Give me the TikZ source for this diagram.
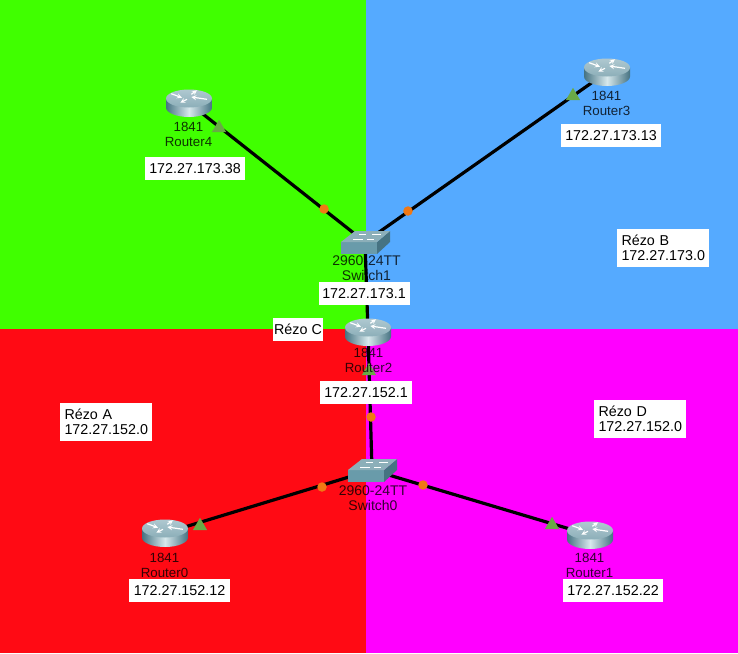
\documentclass[tikz,border=0pt]{standalone}
\usepackage{fontspec}
\setmainfont{Liberation Sans}
\usetikzlibrary{shapes.geometric}
\definecolor{zonegreen}{RGB}{64,255,0}
\definecolor{zoneblue}{RGB}{85,170,255}
\definecolor{zonered}{RGB}{255,10,20}
\definecolor{zonepink}{RGB}{255,0,255}
\definecolor{portorange}{RGB}{240,120,20}
\definecolor{portgreen}{RGB}{105,170,70}
\definecolor{devdark}{RGB}{70,115,130}
\definecolor{devmid}{RGB}{105,155,170}
\definecolor{devlight}{RGB}{215,232,236}
\definecolor{devtop}{RGB}{140,175,185}
\definecolor{devpale}{RGB}{175,200,208}

\begin{document}
\begin{tikzpicture}
 [
  x=1pt, y=-1pt,
  >=stealth,
  device/.style  = {inner sep = 0pt, minimum size = 1pt},
  link/.style    = {line width = 3.2pt, black},
  portdot/.style = {circle, fill = portorange, inner sep = 0pt, minimum size = 9.5pt},
  porttri/.style = {regular polygon, regular polygon sides = 3, fill = portgreen, inner sep = 0pt, minimum size = 16.5pt},
  devname/.style = {align = center, font = \fontsize{13.3}{15}\selectfont, text = black, text opacity = .8, inner sep = 0pt},
  addr/.style    = {fill = white, font = \fontsize{14.3}{16}\selectfont, inner sep = 0pt, minimum height = 23pt, minimum width = 100pt},
  zone/.style    = {fill = white, align = left, font = \fontsize{14.3}{15}\selectfont, inner sep = 0pt, minimum height = 38pt, minimum width = 92pt, text width = 83pt},
  arrowline/.style = {white, line width = 1.2pt, ->},
  pics/routericon/.style = {code = {
    \shade[left color = devdark, right color = devdark, middle color = devlight] (-23,-4.5) -- (-23,4.5) arc[x radius = 23, y radius = 9.5, start angle = 180, end angle = 0] -- (23,-4.5) -- cycle;
    \shade[top color = devpale, bottom color = devtop] (0,-4.5) ellipse (23 and 9);
    \draw[arrowline] (-17.7,-9.3) -- (-7,-5.3);
    \draw[arrowline] (2.3,-8.7) -- (8,-12.7);
    \draw[arrowline] (18,-3.7) -- (2.3,-6);
    \draw[arrowline] (-2,-3.7) -- (-8.7,-0.3);
  }},
  pics/switchicon/.style = {code = {
    \fill[devmid] (-24,0) -- (12,0) -- (12,12) -- (-24,12) -- cycle;
    \fill[devdark] (12,0) -- (25,-11) -- (25,0) -- (12,12) -- cycle;
    \fill[devtop] (-24,0) -- (-10,-11) -- (25,-11) -- (12,0) -- cycle;
    \draw[white, line width = 1pt] (-12,-3) -- (-2,-3);
    \draw[white, line width = 1pt] (2,-3) -- (9,-3);
    \draw[white, line width = 1pt] (-6,-8) -- (1,-8);
    \draw[white, line width = 1pt] (7,-8) -- (16,-8);
  }},
 ]

 \useasboundingbox (0,0) rectangle (738,653);

 % the four zones
 \fill[zonegreen] (0,0) rectangle (366,329);
 \fill[zoneblue]  (366,0) rectangle (738,329);
 \fill[zonered]   (0,329) rectangle (366,653);
 \fill[zonepink]  (366,329) rectangle (738,653);

 % the devices
 \node (router4) at (189,103) [device] {};
 \node (router3) at (607,72)  [device] {};
 \node (router2) at (368,332) [device] {};
 \node (router0) at (165,533) [device] {};
 \node (router1) at (590,535) [device] {};
 \node (switch1) at (365,242) [device] {};
 \node (switch0) at (372,470) [device] {};

 % the links
 \draw[link] (router4) -- (switch1);
 \draw[link] (router3) -- (switch1);
 \draw[link] (switch1) -- (router2);
 \draw[link] (router2) -- (switch0);
 \draw[link] (switch0) -- (router0);
 \draw[link] (switch0) -- (router1);

 % the port lights
 \node (dot4) at (324,209) [portdot] {};
 \node (dot3) at (408,211) [portdot] {};
 \node (dot2) at (371,417) [portdot] {};
 \node (dot0) at (322,487) [portdot] {};
 \node (dot1) at (423,485) [portdot] {};
 \node (tri4) at (219,128) [porttri] {};
 \node (tri3) at (573,96)  [porttri] {};
 \node (tri2) at (369,371) [porttri] {};
 \node (tri0) at (200,526) [porttri] {};
 \node (tri1) at (552,525) [porttri] {};

 % the icons
 \pic at (router4) {routericon};
 \pic at (router3) {routericon};
 \pic at (router2) {routericon};
 \pic at (router0) {routericon};
 \pic at (router1) {routericon};
 \pic at (switch1) {switchicon};
 \pic at (switch0) {switchicon};

 % the names
 \node (name4) at (188.5,134.5) [devname] {1841\\Router4};
 \node (name3) at (606.5,103)   [devname] {1841\\Router3};
 \node (name2) at (368.5,360.5) [devname] {1841\\Router2};
 \node (name0) at (164.5,565.5) [devname] {1841\\Router0};
 \node (name1) at (589.5,565.5) [devname] {1841\\Router1};
 \node (names1) at (366.5,268.5) [devname, font = \fontsize{14}{15}\selectfont] {2960-24TT\\Switch1};
 \node (names0) at (373,498)     [devname, font = \fontsize{14}{15}\selectfont] {2960-24TT\\Switch0};

 % the addresses
 \node (addr4) at (195,168.5) [addr] {172.27.173.38};
 \node (addr3) at (611,135.5) [addr] {172.27.173.13};
 \node (addrs1) at (364,293.5) [addr, minimum width = 91pt] {172.27.173.1};
 \node (addr2) at (366,392.5) [addr, minimum width = 92pt] {172.27.152.1};
 \node (addr0) at (179.5,590.5) [addr, minimum width = 101pt] {172.27.152.12};
 \node (addr1) at (613,590.5) [addr] {172.27.152.22};

 % the networks
 \node (zoneb) at (663,248) [zone] {Rézo B\\172.27.173.0};
 \node (zonec) at (298,329.5) [addr, minimum width = 50pt] {Rézo C};
 \node (zonea) at (106,422) [zone] {Rézo A\\172.27.152.0};
 \node (zoned) at (640,419) [zone] {Rézo D\\172.27.152.0};
\end{tikzpicture}
\end{document}
